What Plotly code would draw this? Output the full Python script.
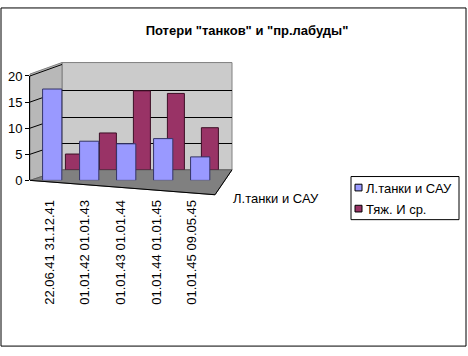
import plotly.graph_objects as go

categories = ["22.06.41 31.12.41", "01.01.42 01.01.43", "01.01.43 01.01.44",
              "01.01.44 01.01.45", "01.01.45 09.05.45"]
light_tanks = [17.5, 7.5, 7, 8, 4.5]
heavy_medium = [3, 7, 15, 14.5, 8]
series_names = ["Л.танки и САУ", "Тяж. И ср."]
series_colors = ["#9999ff", "#993366"]
series_edges = ["#333366", "#3d0f26"]
y_ticks = [0, 5, 10, 15, 20]

W, H = 468, 356
def px(x):
    return x / W
def py(y):
    return (H - y) / H

# layout geometry (pixels)
FX0, FX1, FY0, FY1 = 30, 215, 181, 72     # front axes
BX0, BX1, BY0, BY1 = 62, 232, 170, 60     # back axes
YMAX = 20

fig = go.Figure()
# back row (red)
fig.add_trace(go.Bar(x=categories, y=heavy_medium, name=series_names[1],
                     marker=dict(color=series_colors[1], line=dict(color=series_edges[1], width=1)),
                     xaxis="x", yaxis="y", width=0.5, showlegend=False))
# front row (blue)
fig.add_trace(go.Bar(x=categories, y=light_tanks, name=series_names[0],
                     marker=dict(color=series_colors[0], line=dict(color=series_edges[0], width=1)),
                     xaxis="x2", yaxis="y2", width=0.52, showlegend=False))
# category labels axis (invisible carrier)
fig.add_trace(go.Scatter(x=categories, y=[0] * len(categories), mode="markers",
                         marker=dict(opacity=0), hoverinfo="skip", showlegend=False,
                         xaxis="x3", yaxis="y3"))

font13 = dict(family="Arial, Liberation Sans, sans-serif", size=13, color="black")

shapes = [
    # back wall
    dict(type="rect", xref="paper", yref="paper", x0=px(BX0), x1=px(BX1), y0=py(BY0), y1=py(58),
         fillcolor="#cbcbcb", line=dict(color="#808080", width=1), layer="below"),
    # side wall
    dict(type="path", xref="paper", yref="paper",
         path=f"M {px(FX0)} {py(FY0)} L {px(BX0)} {py(BY0)} L {px(BX0)} {py(58)} L {px(FX0)} {py(70)} Z",
         fillcolor="#b8b8b8", line=dict(color="#808080", width=1), layer="below"),
    # floor
    dict(type="path", xref="paper", yref="paper",
         path=f"M {px(FX0)} {py(FY0)} L {px(FX1)} {py(196)} L {px(BX1)} {py(BY0)} L {px(BX0)} {py(BY0)} Z",
         fillcolor="#808080", line=dict(color="#606060", width=1), layer="below"),
    # floor front edge (category axis line)
    dict(type="line", xref="paper", yref="paper", x0=px(FX0), y0=py(FY0), x1=px(FX1), y1=py(196),
         line=dict(color="black", width=1), layer="below"),
    dict(type="line", xref="paper", yref="paper", x0=px(FX1), y0=py(196), x1=px(BX1), y1=py(BY0),
         line=dict(color="black", width=1), layer="below"),
    # outer border
    dict(type="rect", xref="paper", yref="paper", x0=px(1), x1=px(466), y0=py(354), y1=py(1),
         fillcolor="rgba(0,0,0,0)", line=dict(color="black", width=1)),
    # legend box
    dict(type="rect", xref="paper", yref="paper", x0=px(351), x1=px(459), y0=py(222), y1=py(177),
         fillcolor="white", line=dict(color="black", width=1)),
]
# side-wall gridlines
for v in y_ticks[1:]:
    yf = FY0 - (FY0 - FY1) * v / YMAX
    yb = BY0 - (BY0 - BY1) * v / YMAX
    shapes.append(dict(type="line", xref="paper", yref="paper", x0=px(FX0), y0=py(yf),
                       x1=px(BX0), y1=py(yb), line=dict(color="black", width=1), layer="below"))

annotations = [dict(text=series_names[0], xref="paper", yref="paper",
                    x=px(231), y=py(200), xanchor="left", yanchor="middle",
                    showarrow=False, font=font13)]
legend_rows = [189, 211]
for i, yy in enumerate(legend_rows):
    shapes.append(dict(type="rect", xref="paper", yref="paper",
                       x0=px(355), x1=px(362), y0=py(yy + 3), y1=py(yy - 4),
                       fillcolor=series_colors[i], line=dict(color="black", width=1)))
    annotations.append(dict(text=series_names[i], xref="paper", yref="paper",
                            x=px(364), y=py(yy), xanchor="left", yanchor="middle",
                            showarrow=False, font=font13))

fig.update_layout(
    width=W, height=H,
    margin=dict(l=0, r=0, t=0, b=0),
    paper_bgcolor="white", plot_bgcolor="rgba(0,0,0,0)",
    font=font13,
    barmode="overlay",
    showlegend=False,
    title=dict(text="<b>Потери \"танков\" и \"пр.лабуды\"</b>", x=px(247), y=py(30),
               xanchor="center", yanchor="middle",
               font=dict(family="Arial, Liberation Sans, sans-serif", size=13, color="black")),
    xaxis=dict(domain=[px(BX0), px(BX1)], anchor="y", range=[-0.35, 4.65],
               showticklabels=False, ticks="", showgrid=False, zeroline=False, showline=False),
    yaxis=dict(domain=[py(BY0), py(BY1)], anchor="x", range=[0, YMAX], tickvals=y_ticks,
               showticklabels=False, ticks="", showgrid=True, gridcolor="black", gridwidth=1,
               zeroline=False, showline=False),
    xaxis2=dict(domain=[px(FX0), px(FX1)], anchor="y2", range=[-0.6, 4.4],
                showticklabels=False, ticks="", showgrid=False, zeroline=False, showline=False),
    yaxis2=dict(domain=[py(FY0), py(FY1)], anchor="x2", range=[0, YMAX], tickvals=y_ticks,
                ticks="outside", ticklen=4, tickcolor="black", showgrid=False,
                zeroline=False, showline=True, linecolor="black", tickfont=font13),
    xaxis3=dict(domain=[px(FX0), px(208)], anchor="y3", range=[-0.55, 4.45], tickangle=-90,
                ticks="", ticklabelstandoff=16, showgrid=False, zeroline=False,
                showline=False, tickfont=font13),
    yaxis3=dict(domain=[py(FY0), py(FY1)], anchor="x3", range=[0, YMAX], visible=False),
    shapes=shapes,
    annotations=annotations,
)

fig.write_html("out.html", config={"displayModeBar": False},
               post_script="document.body.style.margin='0';document.body.style.overflow='hidden';")
